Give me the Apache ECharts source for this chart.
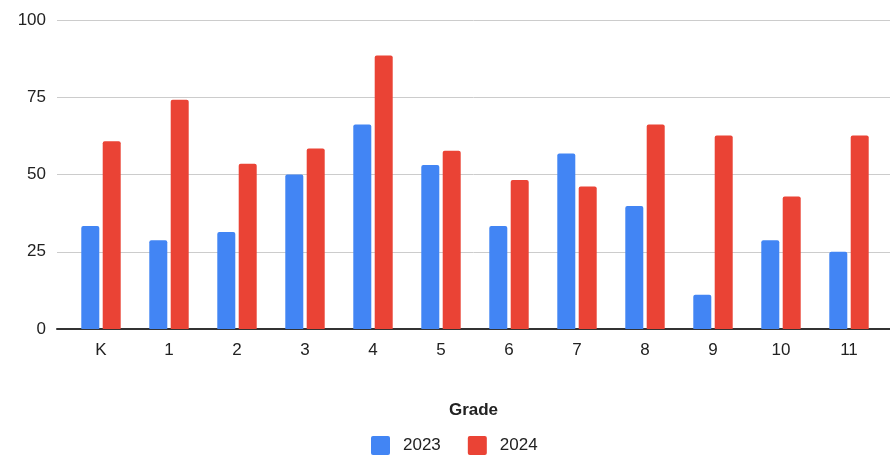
<!DOCTYPE html>
<html>
<head>
<meta charset="utf-8">
<script src="https://cdn.jsdelivr.net/npm/echarts@6/dist/echarts.min.js"></script>
<style>
  html, body { margin: 0; padding: 0; background: #fff; }
  #chart { width: 890px; height: 458px; }
</style>
</head>
<body>
<div id="chart"></div>
<script>
// Grades shown along the horizontal axis
const grades = ['K', '1', '2', '3', '4', '5', '6', '7', '8', '9', '10', '11'];
// Values per grade, one array per year
const values2023 = [33.3, 28.7, 31.4, 50.0, 66.2, 53.1, 33.3, 56.8, 39.8, 11.1, 28.7, 25.0];
const values2024 = [60.8, 74.2, 53.5, 58.4, 88.5, 57.7, 48.2, 46.1, 66.2, 62.6, 42.9, 62.6];
// Vertical axis ticks
const yTicks = [0, 25, 50, 75, 100];

const FONT = "'Liberation Sans', Arial, sans-serif";
const yMin = yTicks[0];
const yMax = yTicks[yTicks.length - 1];
const yStep = yTicks[1] - yTicks[0];

// small-radius square used as the legend swatch
const SWATCH = 'path://M2,0 L17,0 Q19,0 19,2 L19,17 Q19,19 17,19 L2,19 Q0,19 0,17 L0,2 Q0,0 2,0 Z';

const chart = echarts.init(document.getElementById('chart'));
chart.setOption({
  animation: false,
  textStyle: { fontFamily: FONT },
  grid: [
    // full-width frame: gridlines, y labels, baseline, axis title
    { left: 57, right: 0, top: 20, bottom: 129 },
    // inner band holding the bars
    { left: 67, right: 7, top: 20, bottom: 129 }
  ],
  legend: {
    data: ['2023', '2024'],
    left: 366,
    top: 431,
    icon: SWATCH,
    itemWidth: 19,
    itemHeight: 19,
    itemGap: 27,
    textStyle: { fontSize: 17, color: '#222', fontFamily: FONT, padding: [0, 0, 0, 8] }
  },
  xAxis: [
    {
      gridIndex: 0,
      type: 'value',
      min: 0,
      max: 1,
      axisLabel: { show: false },
      axisTick: { show: false },
      splitLine: { show: false },
      axisLine: { show: true, onZero: false, lineStyle: { color: '#333', width: 2 } },
      name: 'Grade',
      nameLocation: 'middle',
      nameGap: 73,
      nameTextStyle: { fontSize: 17, fontWeight: 'bold', color: '#222', fontFamily: FONT }
    },
    {
      gridIndex: 1,
      type: 'category',
      data: grades,
      axisLine: { show: false },
      axisTick: { show: false },
      axisLabel: { fontSize: 17, color: '#222', margin: 13, fontFamily: FONT }
    }
  ],
  yAxis: [
    {
      gridIndex: 0,
      type: 'value',
      min: yMin,
      max: yMax,
      interval: yStep,
      axisLine: { show: false },
      axisTick: { show: false },
      axisLabel: { fontSize: 17, color: '#222', margin: 11, fontFamily: FONT },
      splitLine: { lineStyle: { color: '#cccccc', width: 1 } }
    },
    {
      gridIndex: 1,
      type: 'value',
      min: yMin,
      max: yMax,
      interval: yStep,
      show: false,
      splitLine: { show: false }
    }
  ],
  series: [
    {
      name: '2023',
      type: 'bar',
      xAxisIndex: 1,
      yAxisIndex: 1,
      data: values2023,
      barWidth: 18,
      barGap: '19%',
      itemStyle: { color: '#4285F4', borderRadius: [2, 2, 0, 0] }
    },
    {
      name: '2024',
      type: 'bar',
      xAxisIndex: 1,
      yAxisIndex: 1,
      data: values2024,
      barWidth: 18,
      barGap: '19%',
      itemStyle: { color: '#EA4335', borderRadius: [2, 2, 0, 0] }
    }
  ]
});
</script>
</body>
</html>
